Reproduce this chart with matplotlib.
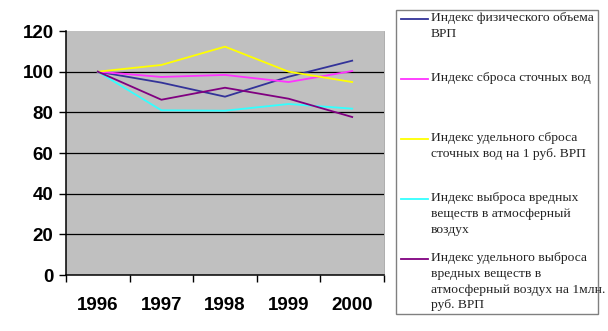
import matplotlib.pyplot as plt
from matplotlib.lines import Line2D
from matplotlib.patches import Rectangle

years = ["1996", "1997", "1998", "1999", "2000"]

grp_index = [100, 94.6, 87.7, 97.5, 105.4]
water_index = [100, 97.4, 98.4, 94.9, 100.3]
water_per_grp = [100, 103.3, 112.3, 100.0, 94.9]
air_index = [100, 81.0, 80.8, 84.1, 81.8]
air_per_grp = [100, 86.2, 92.1, 86.7, 77.7]

labels = [
    "Индекс физического объема\nВРП",
    "Индекс сброса сточных вод",
    "Индекс удельного сброса\nсточных вод на 1 руб. ВРП",
    "Индекс выброса вредных\nвеществ в атмосферный\nвоздух",
    "Индекс удельного выброса\nвредных веществ в\nатмосферный воздух на 1млн.\nруб. ВРП",
]
colors = ["#333399", "#ff33ff", "#ffff00", "#33ffff", "#800080"]
series = [grp_index, water_index, water_per_grp, air_index, air_per_grp]

W, H = 608, 331
fig = plt.figure(figsize=(W / 100, H / 100), dpi=100)
ax = fig.add_axes([66 / W, 1 - 275 / H, 318 / W, 244 / H])
ax.set_facecolor("#c0c0c0")

for y in range(20, 120, 20):
    ax.axhline(y, color="black", lw=0.9, zorder=1)

x = list(range(len(years)))
for vals, c in zip(series, colors):
    ax.plot(x, vals, color=c, lw=1.3, zorder=3)

tickfont = {"family": "Liberation Sans", "size": 13.5, "weight": "bold"}
ax.set_xlim(-0.5, 4.5)
ax.set_ylim(0, 120)
ax.set_yticks(range(0, 121, 20))
ax.set_yticklabels([str(v) for v in range(0, 121, 20)], fontdict=tickfont)
ax.set_xticks([i - 0.5 for i in range(6)])
ax.set_xticklabels([])
ax.set_xticks(x, minor=True)
ax.set_xticklabels(years, minor=True, fontdict=tickfont)
ax.tick_params(axis="x", which="major", length=5, width=1, color="black")
ax.tick_params(axis="x", which="minor", length=0, pad=16)
ax.tick_params(axis="y", length=5, width=1, pad=4)

ax.spines["top"].set_visible(False)
ax.spines["right"].set_color("#a0a0a0")
ax.spines["right"].set_linewidth(0.6)
ax.spines["left"].set_linewidth(1.1)
ax.spines["bottom"].set_linewidth(1.1)

# legend drawn by hand so the line sits on the first text row
fig.patches.append(Rectangle((396 / W, 1 - 314 / H), 202 / W, 304 / H,
                             transform=fig.transFigure, facecolor="white",
                             edgecolor="#808080", lw=1.0))
for i, (lab, c) in enumerate(zip(labels, colors)):
    ytop = 19 + 60 * i
    fig.add_artist(Line2D([401 / W, 428 / W], [1 - ytop / H] * 2, color=c, lw=1.3,
                          transform=fig.transFigure))
    fig.text(431 / W, 1 - (ytop - 7) / H, lab, ha="left", va="top",
             family="Liberation Serif", fontsize=9.7, linespacing=1.42, color="#222222")

fig.savefig("out.png", dpi=100)
